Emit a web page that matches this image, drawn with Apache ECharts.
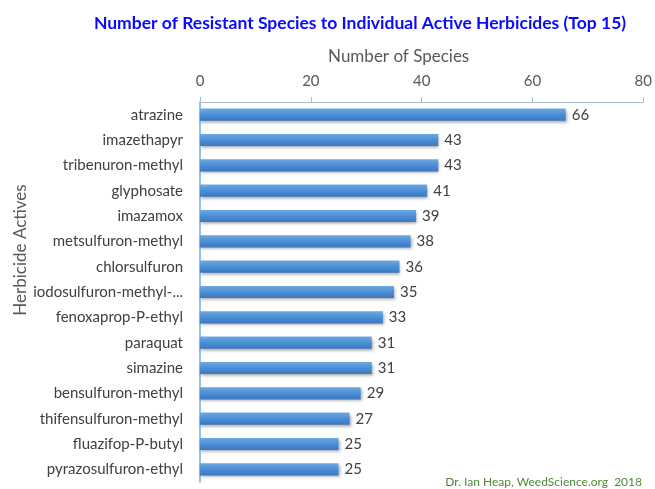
<!DOCTYPE html>
<html><head><meta charset="utf-8">
<script src="https://cdn.jsdelivr.net/npm/echarts@6/dist/echarts.min.js"></script>
<style>html,body{margin:0;padding:0;background:#fff}#c{width:655px;height:489px}</style>
</head><body><div id="c"></div>
<script>
const categories = ["atrazine","imazethapyr","tribenuron-methyl","glyphosate","imazamox","metsulfuron-methyl","chlorsulfuron","iodosulfuron-methyl-...","fenoxaprop-P-ethyl","paraquat","simazine","bensulfuron-methyl","thifensulfuron-methyl","fluazifop-P-butyl","pyrazosulfuron-ethyl"];
const speciesCounts = [66,43,43,41,39,38,36,35,33,31,31,29,27,25,25];
const xTicks = [0,20,40,60,80];
const FONT = "Lato";
const chart = echarts.init(document.getElementById('c'));
chart.setOption({
  animation:false,
  title:[{text:"Number of Resistant Species to Individual Active Herbicides (Top 15)",left:355,top:9,textAlign:'center',
    textStyle:{color:'#0a0aff',fontFamily:FONT,fontWeight:'bold',fontSize:17.5}},
    {text:"Dr. Ian Heap, WeedScience.org  2018",right:8,top:471,textStyle:{color:'#4e8a3a',fontFamily:FONT,fontWeight:'normal',fontSize:12}}],
  grid:{left:200,right:6,top:102,bottom:7},
  xAxis:{type:'value',position:'top',min:xTicks[0],max:xTicks[xTicks.length-1],interval:20,
    name:'Number of Species',nameLocation:'middle',nameGap:37,
    nameTextStyle:{color:'#595959',fontFamily:FONT,fontSize:17,padding:[0,46,0,0]},
    axisLine:{show:true,lineStyle:{color:'#a9bdd6',width:1}},
    axisTick:{show:true,length:5,lineStyle:{color:'#a9bdd6'}},
    axisLabel:{color:'#595959',fontFamily:FONT,fontSize:15,margin:13},
    splitLine:{show:false}},
  yAxis:{type:'category',data:categories,inverse:true,
    name:'Herbicide Actives',nameLocation:'middle',nameGap:171,nameRotate:90,nameMoveOverlap:false,
    nameTextStyle:{color:'#595959',fontFamily:FONT,fontSize:17,padding:[0,0,0,84]},
    axisLine:{show:true,lineStyle:{color:'#6aaee8',width:1.5}},
    axisTick:{show:false},
    axisLabel:{color:'#404040',fontFamily:FONT,fontSize:15,margin:17}},
  series:[{type:'bar',data:speciesCounts,barCategoryGap:'52%',
    itemStyle:{color:new echarts.graphic.LinearGradient(0,0,0,1,[{offset:0,color:'#6fa8e0'},{offset:0.5,color:'#4a8fd6'},{offset:1,color:'#3a78c0'}]),
      shadowColor:'rgba(0,0,0,0.35)',shadowBlur:3,shadowOffsetX:1,shadowOffsetY:2},
    label:{show:true,position:'right',distance:6,color:'#404040',fontFamily:FONT,fontSize:15}}]
});
</script></body></html>
